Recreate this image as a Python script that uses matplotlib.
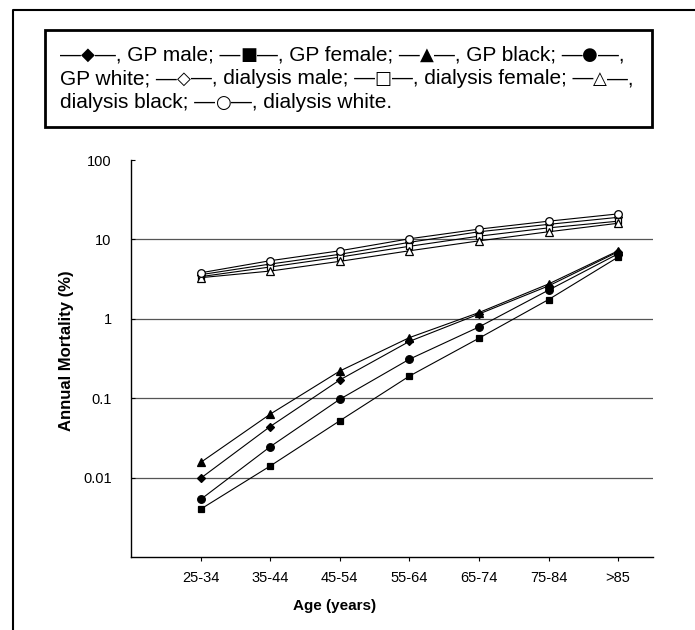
import matplotlib
matplotlib.use("Agg")
import matplotlib.pyplot as plt
from matplotlib.lines import Line2D
from matplotlib.patches import Rectangle
from matplotlib.ticker import FixedLocator, FixedFormatter, NullLocator

ages = ["25-34", "35-44", "45-54", "55-64", "65-74", "75-84", ">85"]

gp_male = [0.0098, 0.044, 0.17, 0.52, 1.15, 2.6, 7.0]
gp_female = [0.004, 0.014, 0.052, 0.19, 0.57, 1.75, 6.0]
gp_black = [0.0155, 0.063, 0.22, 0.58, 1.2, 2.75, 7.2]
gp_white = [0.0053, 0.0245, 0.097, 0.31, 0.79, 2.3, 6.6]

dial_male = [3.6, 4.9, 6.5, 9.2, 12.5, 15.5, 19.0]
dial_female = [3.4, 4.5, 6.0, 8.2, 11.0, 14.0, 17.0]
dial_black = [3.3, 4.0, 5.3, 7.2, 9.6, 12.5, 16.0]
dial_white = [3.8, 5.4, 7.2, 10.2, 13.5, 17.0, 21.0]

legend_lines = [
    "\u2014\u25c6\u2014, GP male; \u2014\u25a0\u2014, GP female; \u2014\u25b2\u2014, GP black; \u2014\u25cf\u2014,",
    "GP white; \u2014\u25c7\u2014, dialysis male; \u2014\u25a1\u2014, dialysis female; \u2014\u25b3\u2014,",
    "dialysis black; \u2014\u25cb\u2014, dialysis white.",
]
symbols = "\u25c6\u25a0\u25b2\u25cf\u25c7\u25a1\u25b3\u25cb"

plt.rcParams['font.family'] = ['Liberation Sans', 'DejaVu Sans']

fig = plt.figure(figsize=(6.95, 6.30), dpi=100)
ax = fig.add_axes([0.1885, 0.1159, 0.751, 0.630])

x = list(range(len(ages)))
series = [
    (gp_male, "D", "black", 4.5),
    (gp_female, "s", "black", 5),
    (gp_black, "^", "black", 5.5),
    (gp_white, "o", "black", 5.5),
    (dial_male, "D", "white", 4.5),
    (dial_female, "s", "white", 5),
    (dial_black, "^", "white", 5.5),
    (dial_white, "o", "white", 5.5),
]
for vals, m, fc, ms in series:
    ax.plot(x, vals, color="black", lw=0.8, marker=m, markersize=ms,
            markerfacecolor=fc, markeredgecolor="black", markeredgewidth=0.9, zorder=3)

ax.set_yscale("log")
ax.set_ylim(0.001, 100)
ax.set_xlim(-1, 6.5)
ax.yaxis.set_major_locator(FixedLocator([0.01, 0.1, 1, 10, 100]))
ax.yaxis.set_major_formatter(FixedFormatter(["0.01", "0.1", "1", "10", "100"]))
ax.yaxis.set_minor_locator(NullLocator())
ax.set_xticks(x)
ax.set_xticklabels(ages)
ax.tick_params(axis="both", labelsize=10.5, length=3, width=0.8)
ax.tick_params(axis="x", direction="out", pad=7)
ax.tick_params(axis="y", direction="in", pad=14)

for v in [0.01, 0.1, 1, 10]:
    ax.axhline(v, color="#555555", lw=0.9, zorder=1)

for s in ["top", "right"]:
    ax.spines[s].set_visible(False)
ax.spines["left"].set_linewidth(1.0)
ax.spines["bottom"].set_linewidth(1.0)

ax.set_ylabel("Annual Mortality (%)", fontsize=12, fontweight="bold")
ax.yaxis.set_label_coords(-0.11, 0.52)
ax.set_xlabel("Age (years)", fontsize=11, fontweight="bold")
ax.xaxis.set_label_coords(0.39, -0.105)

# outer frame and legend box
W, H = 695.0, 630.0
fig.add_artist(Line2D([13 / W, 13 / W, 1.0], [0.0, 1 - 10 / H, 1 - 10 / H],
                      color="black", lw=1.5, transform=fig.transFigure))
fig.add_artist(Rectangle((45 / W, 1 - 127 / H), (652 - 45) / W, (127 - 30) / H,
                         fill=False, edgecolor="black", lw=2.0, transform=fig.transFigure))

# legend text: symbols in DejaVu Sans, words in Liberation Sans
renderer = fig.canvas.get_renderer()
for i, line in enumerate(legend_lines):
    runs = []
    for ch in line:
        fam = "DejaVu Sans" if ch in symbols else "Liberation Sans"
        if runs and runs[-1][1] == fam:
            runs[-1][0] += ch
        else:
            runs.append([ch, fam])
    xpos = 60 / W
    ypos = 1 - (55 + 24 * i) / H
    for s, fam in runs:
        fs = 13 if fam == "DejaVu Sans" else 15
        t = fig.text(xpos, ypos, s, family=fam, fontsize=fs, va="center", ha="left")
        xpos += t.get_window_extent(renderer).width / fig.bbox.width

fig.savefig("out.png", dpi=100, facecolor="white")
